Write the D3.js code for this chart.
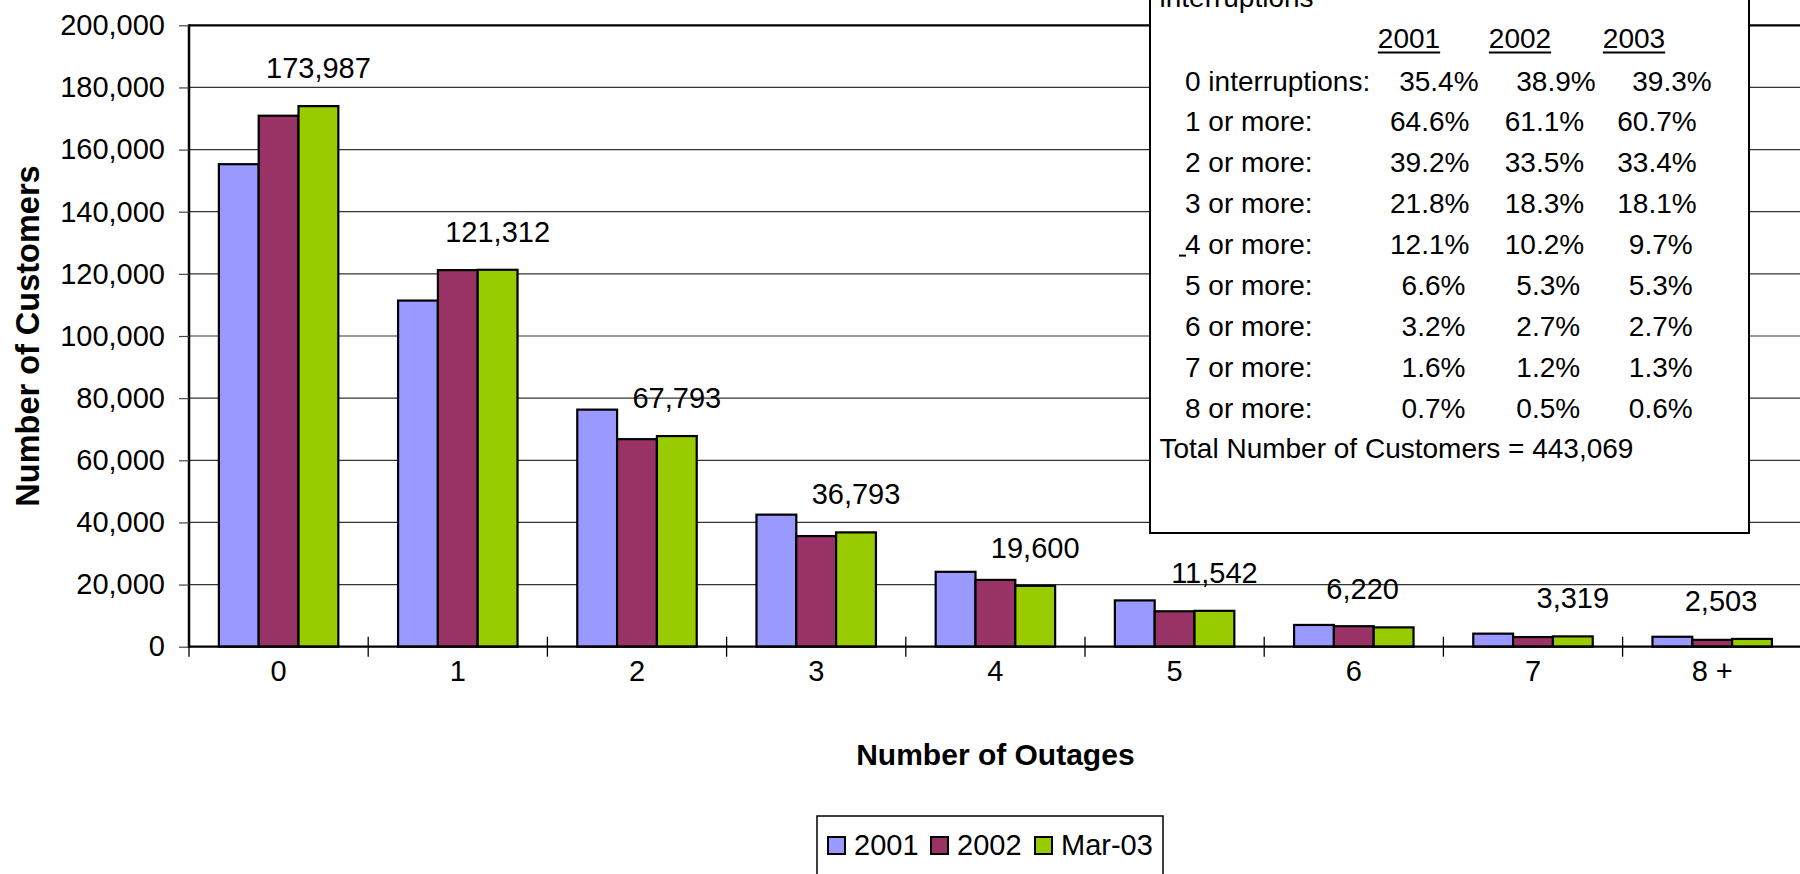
<!DOCTYPE html>
<html><head><meta charset="utf-8">
<script src="https://cdn.jsdelivr.net/npm/d3@7"></script>
<style>
body{margin:0;background:#fff;}
svg{display:block;}
text{font-family:"Liberation Sans",Arial,sans-serif;fill:#000;}
</style>
</head><body>
<svg id="chart" width="1800" height="874"></svg>
<script>
// ---- data ----
const categories = ["0","1","2","3","4","5","6","7","8 +"];
const seriesNames = ["2001","2002","Mar-03"];
const values2001 = [155300,111400,76300,42500,24100,14900,7000,4200,3200];
const values2002 = [170900,121200,66800,35600,21500,11400,6600,3100,2200];
const valuesMar03 = [173987,121312,67793,36793,19600,11542,6220,3319,2503];
const yTicks = [0,20000,40000,60000,80000,100000,120000,140000,160000,180000,200000];
const seriesColors = ["#9999FF","#993366","#99CC00"];
const xTitle = "Number of Outages";
const yTitle = "Number of Customers";
const tableTitle = "interruptions";
const tableYears = ["2001","2002","2003"];
const tableRowLabels = ["0 interruptions:","1 or more:","2 or more:","3 or more:","4 or more:","5 or more:","6 or more:","7 or more:","8 or more:"];
const pct2001 = ["35.4%","64.6%","39.2%","21.8%","12.1%","6.6%","3.2%","1.6%","0.7%"];
const pct2002 = ["38.9%","61.1%","33.5%","18.3%","10.2%","5.3%","2.7%","1.2%","0.5%"];
const pct2003 = ["39.3%","60.7%","33.4%","18.1%","9.7%","5.3%","2.7%","1.3%","0.6%"];
const totalLabel = "Total Number of Customers = 443,069";

(function(){
// ---- layout ----
const W = 1800, H = 874;
const pL = 189, pR = 1801.8, pT = 25.3, pB = 646.7;
const svg = d3.select("#chart");
svg.append("rect").attr("width",W).attr("height",H).attr("fill","#fff");

const x0 = d3.scaleBand().domain(categories).range([pL,pR]).padding(0);
const bw = x0.bandwidth();
const x1 = d3.scaleBand().domain(seriesNames).range([bw/6, bw*5/6]).padding(0);
const y = d3.scaleLinear().domain([0,200000]).range([pB, pT]);
const color = d3.scaleOrdinal().domain(seriesNames).range(seriesColors);

const seriesValues = [values2001, values2002, valuesMar03];
const rows = categories.map((c,i)=>({cat:c, vals:seriesNames.map((s,j)=>({s, v:seriesValues[j][i]}))}));

// gridlines
svg.append("g").selectAll("line").data(yTicks.filter(t=>t>0 && t<200000)).join("line")
  .attr("x1",pL).attr("x2",pR).attr("y1",d=>y(d)).attr("y2",d=>y(d))
  .attr("stroke","#333").attr("stroke-width",1.2);

// bars
const g = svg.append("g").selectAll("g").data(rows).join("g")
  .attr("transform",d=>`translate(${x0(d.cat)},0)`);
g.selectAll("rect").data(d=>d.vals).join("rect")
  .attr("x",d=>x1(d.s)).attr("width",x1.bandwidth())
  .attr("y",d=>y(d.v)).attr("height",d=>y(0)-y(d.v))
  .attr("fill",d=>color(d.s)).attr("stroke","#000").attr("stroke-width",2.2);

// plot border top, axes
svg.append("line").attr("x1",pL).attr("x2",pR).attr("y1",pT).attr("y2",pT).attr("stroke","#000").attr("stroke-width",2.2);
svg.append("line").attr("x1",pL).attr("x2",pR).attr("y1",pB).attr("y2",pB).attr("stroke","#000").attr("stroke-width",2.2);
svg.append("line").attr("x1",pL).attr("x2",pL).attr("y1",pT-1).attr("y2",pB+1).attr("stroke","#000").attr("stroke-width",2.5);

// y axis
const yAxis = svg.append("g").attr("transform",`translate(${pL},0)`)
  .call(d3.axisLeft(y).tickValues(yTicks).tickFormat(d3.format(",")).tickSize(10).tickPadding(14));
yAxis.select(".domain").remove();
yAxis.selectAll(".tick line").attr("stroke","#444").attr("stroke-width",1.2);
yAxis.selectAll("text").attr("font-size",29).attr("font-family","Liberation Sans, Arial, sans-serif").attr("fill","#000");

// x axis
const xAxis = svg.append("g").attr("transform",`translate(0,${pB})`)
  .call(d3.axisBottom(x0).tickSize(0).tickPadding(14));
xAxis.select(".domain").remove();
xAxis.selectAll("text").attr("font-size",29).attr("font-family","Liberation Sans, Arial, sans-serif").attr("fill","#000");
const boundaries = categories.map(c=>x0(c)).concat([pR]);
svg.append("g").selectAll("line").data(boundaries).join("line")
  .attr("x1",d=>d).attr("x2",d=>d).attr("y1",pB-10).attr("y2",pB+10)
  .attr("stroke","#000").attr("stroke-width",1.3);

// data labels (Mar-03)
const labelNudge = {"6":-31,"8 +":-31};
svg.append("g").selectAll("text").data(categories).join("text")
  .attr("x",(c,i)=>x0(c)+x1("Mar-03")+x1.bandwidth()/2+(labelNudge[c]||0))
  .attr("y",(c,i)=>y(valuesMar03[i])-28)
  .attr("text-anchor","middle").attr("font-size",29)
  .text((c,i)=>d3.format(",")(valuesMar03[i]));

// axis titles
svg.append("text").attr("x",(pL+pR)/2).attr("y",765).attr("text-anchor","middle")
  .attr("font-size",30).attr("font-weight","bold").text(xTitle);
svg.append("text").attr("transform",`translate(39,${(pT+pB)/2}) rotate(-90)`).attr("text-anchor","middle")
  .attr("font-size",32.5).attr("font-weight","bold").text(yTitle);

// text box table
const tb = svg.append("g");
tb.append("rect").attr("x",1150).attr("y",-20).attr("width",599).attr("height",553)
  .attr("fill","#fff").attr("stroke","#000").attr("stroke-width",2);
tb.append("text").attr("x",1159.5).attr("y",7).attr("font-size",28).text(tableTitle);
const headerX = [1409,1520,1634];
tableYears.forEach((t,i)=>{
  const tx = tb.append("text").attr("x",headerX[i]).attr("y",48).attr("text-anchor","middle").attr("font-size",28).text(t);
  const w = tx.node().getComputedTextLength();
  tb.append("line").attr("x1",headerX[i]-w/2).attr("x2",headerX[i]+w/2).attr("y1",52.5).attr("y2",52.5).attr("stroke","#000").attr("stroke-width",2);
});
const rowY0 = 90.5, rowStep = 40.9;
const colRight0 = [1478.6,1595.7,1711.7];
const colRight = [1469.4,1584.2,1696.7];
const pcts = [pct2001,pct2002,pct2003];
tableRowLabels.forEach((lab,r)=>{
  const yy = rowY0 + r*rowStep;
  tb.append("text").attr("x",1185).attr("y",yy).attr("font-size",28).text(lab);
  pcts.forEach((col,j)=>{
    const v = col[r];
    const shift = (r===0) ? 0 : (v.length<5 ? -4 : 0);
    const xr = (r===0 ? colRight0[j] : colRight[j]) + shift;
    tb.append("text").attr("x",xr).attr("y",yy).attr("text-anchor","end").attr("font-size",28).text(v);
  });
});
tb.append("line").attr("x1",1179).attr("x2",1186).attr("y1",rowY0+4*rowStep+1.5).attr("y2",rowY0+4*rowStep+1.5).attr("stroke","#000").attr("stroke-width",2);
tb.append("text").attr("x",1159.5).attr("y",rowY0+9*rowStep-0.5).attr("font-size",28).text(totalLabel);

// legend
const lg = svg.append("g");
lg.append("rect").attr("x",817).attr("y",816).attr("width",346).attr("height",80)
  .attr("fill","#fff").attr("stroke","#000").attr("stroke-width",1.5);
const legX = [828,931,1035];
seriesNames.forEach((s,i)=>{
  lg.append("rect").attr("x",legX[i]).attr("y",837).attr("width",17).attr("height",17)
    .attr("fill",color(s)).attr("stroke","#000").attr("stroke-width",2);
  lg.append("text").attr("x",legX[i]+26).attr("y",855).attr("font-size",29).text(s);
});
})();
</script>
</body></html>
